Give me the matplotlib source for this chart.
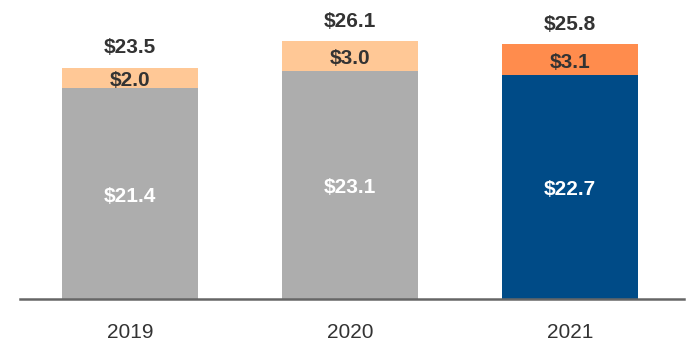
import matplotlib
matplotlib.use("Agg")
import matplotlib.pyplot as plt

years = ["2019", "2020", "2021"]
base_vals = [21.4, 23.1, 22.7]
top_vals = [2.0, 3.0, 3.1]
total_labels = ["$23.5", "$26.1", "$25.8"]

base_colors = ["#ADADAD", "#ADADAD", "#004B87"]
top_colors = ["#FFC896", "#FFC896", "#FF8C4D"]

plt.rcParams['font.family'] = ['Liberation Sans', 'DejaVu Sans']

fig = plt.figure(figsize=(7, 3.6), dpi=100)
ax = fig.add_axes([20/700, 61/360, 664/700, 299/360])
x = list(range(len(years)))
w = 0.62
ax.bar(x, base_vals, width=w, color=base_colors, zorder=2)
ax.bar(x, top_vals, width=w, bottom=base_vals, color=top_colors, zorder=2)

for i in x:
    b = base_vals[i]
    t = top_vals[i]
    ax.text(i, b / 2 - 0.3, f"${b:.1f}", ha="center", va="center", color="white",
            fontsize=15, fontweight="bold", zorder=3)
    ax.text(i, b + t / 2 - 0.25, f"${t:.1f}", ha="center", va="center", color="#333333",
            fontsize=15, fontweight="bold", zorder=3)
    ax.text(i, b + t + 2.05, total_labels[i], ha="center", va="center", color="#333333",
            fontsize=15, fontweight="bold", zorder=3)

ax.set_xlim(-0.5, 2.518)
ax.set_ylim(0, 30.3)
for s in ["top", "right", "left"]:
    ax.spines[s].set_visible(False)
ax.spines["bottom"].set_color("#666666")
ax.spines["bottom"].set_linewidth(1.8)
ax.spines["bottom"].set_zorder(4)
ax.set_yticks([])
ax.set_xticks(x)
ax.set_xticklabels(years, fontsize=15, color="#333333")
ax.tick_params(axis="x", length=0, pad=17)

fig.savefig("out.png", dpi=100)
